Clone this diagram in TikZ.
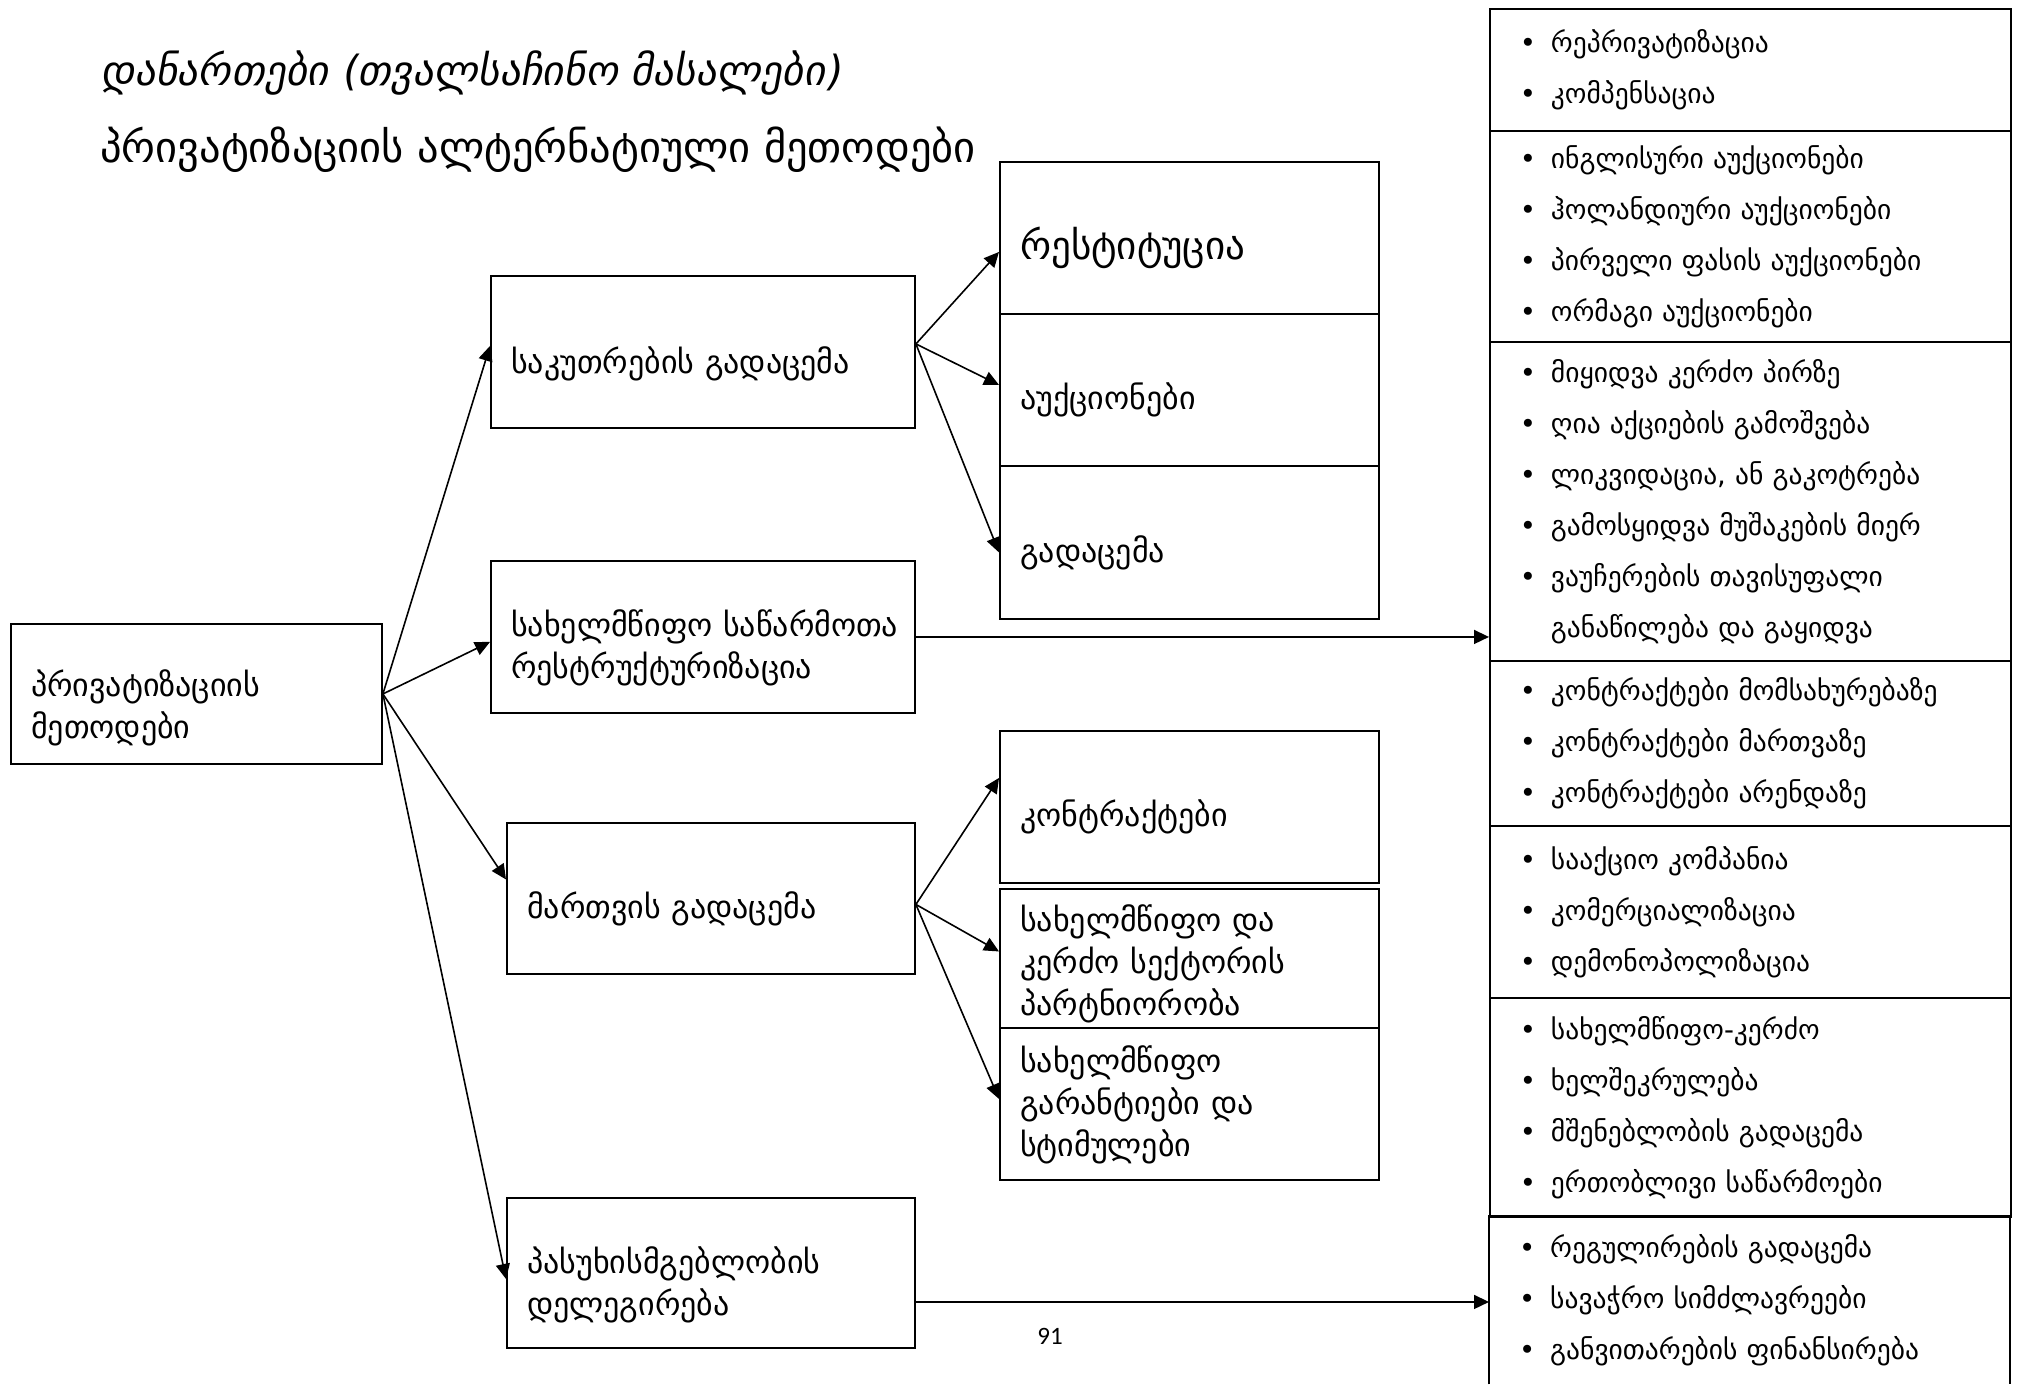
\documentclass[tikz,border=0pt]{standalone}
\usepackage{fontspec}
\setmainfont{DejaVu Sans}
\newfontfamily\titlefont{DejaVu Sans}[FakeSlant=0.18]
\newfontfamily\numfont{Carlito}
\usetikzlibrary{arrows.meta,calc}
\newcommand{\itm}[1]{\makebox[31pt][l]{•}#1}
\newcommand{\cont}[1]{\hspace*{31pt}#1}
\begin{document}
\begin{tikzpicture}[x=1pt,y=-1pt,
  box/.style={draw, line width=1.9pt, anchor=north west, inner sep=0pt},
  txt/.style={anchor=west, inner sep=0pt, align=left, font=\fontsize{32}{42}\selectfont},
  sect/.style={anchor=north west, inner xsep=30pt, inner ysep=0pt, text width=461pt, align=left, font=\fontsize{27.5}{51}\selectfont},
  sectline/.style={line width=1.9pt},
  arr/.style={line width=1.6pt, -{Triangle[length=15pt,width=14pt]}},
  ttl/.style={anchor=west, inner sep=0pt}
]
\useasboundingbox (0,0) rectangle (2018,1384);
\fill[white] (0,0) rectangle (2018,1384);
% titles
\node[ttl] (t1) at (100,73) {\titlefont\fontsize{41.5}{44}\selectfont დანართები (თვალსაჩინო მასალები)};
\node[ttl] (t2) at (100,150) {\fontsize{42.5}{44}\selectfont პრივატიზაციის ალტერნატიული მეთოდები};
% left and second column
\node[box, minimum width=371pt, minimum height=140pt] (L) at (10,623) {};
\node[txt, text width=331pt] (Lt) at ([xshift=21pt,yshift=-14pt]L.west) {პრივატიზაციის\\მეთოდები};
\node[box, minimum width=424pt, minimum height=152pt] (A) at (490,275) {};
\node[txt, text width=384pt] (At) at ([xshift=21pt,yshift=-12pt]A.west) {საკუთრების გადაცემა};
\node[box, minimum width=424pt, minimum height=152pt] (B) at (490,560) {};
\node[txt, text width=400pt] (Bt) at ([xshift=21pt,yshift=-11pt]B.west) {სახელმწიფო საწარმოთა\\რესტრუქტურიზაცია};
\node[box, minimum width=408pt, minimum height=151pt] (C) at (506,822) {};
\node[txt, text width=368pt] (Ct) at ([xshift=21pt,yshift=-10pt]C.west) {მართვის გადაცემა};
\node[box, minimum width=408pt, minimum height=150pt] (D) at (506,1197) {};
\node[txt, text width=368pt] (Dt) at ([xshift=21pt,yshift=-12pt]D.west) {პასუხისმგებლობის\\დელეგირება};
% middle column
\node[box, minimum width=379pt, minimum height=152pt] (M1) at (999,161) {};
\node[txt, text width=339pt, font=\fontsize{39}{44}\selectfont] (M1t) at ([xshift=21pt,yshift=-10pt]M1.west) {რესტიტუცია};
\node[box, minimum width=379pt, minimum height=152pt] (M2) at (999,313) {};
\node[txt, text width=339pt] (M2t) at ([xshift=21pt,yshift=-10pt]M2.west) {აუქციონები};
\node[box, minimum width=379pt, minimum height=153pt] (M3) at (999,465) {};
\node[txt, text width=339pt] (M3t) at ([xshift=21pt,yshift=-10pt]M3.west) {გადაცემა};
\node[box, minimum width=379pt, minimum height=152pt] (M4) at (999,730) {};
\node[txt, text width=339pt] (M4t) at ([xshift=21pt,yshift=-10pt]M4.west) {კონტრაქტები};
\node[box, minimum width=379pt, minimum height=139pt] (M5) at (999,888) {};
\node[txt, text width=339pt] (M5t) at ([xshift=21pt,yshift=-5pt]M5.west) {სახელმწიფო და\\კერძო სექტორის\\პარტნიორობა};
\node[box, minimum width=379pt, minimum height=152pt] (M6) at (999,1027) {};
\node[txt, text width=339pt] (M6t) at ([xshift=21pt,yshift=-1pt]M6.west) {სახელმწიფო\\გარანტიები და\\სტიმულები};
% right column
\node[sect, draw, sectline, minimum height=122pt] (R1) at (1489,8) {\itm{რეპრივატიზაცია}\\\itm{კომპენსაცია}};
\node[sect, draw, sectline, minimum height=211pt] (R2) at (1489,130) {\itm{ინგლისური აუქციონები}\\\itm{ჰოლანდიური აუქციონები}\\\itm{პირველი ფასის აუქციონები}\\\itm{ორმაგი აუქციონები}};
\node[sect, draw, sectline, minimum height=319pt] (R3) at (1489,341) {\itm{მიყიდვა კერძო პირზე}\\\itm{ღია აქციების გამოშვება}\\\itm{ლიკვიდაცია, ან გაკოტრება}\\\itm{გამოსყიდვა მუშაკების მიერ}\\\itm{ვაუჩერების თავისუფალი}\\\cont{განაწილება და გაყიდვა}};
\node[sect, draw, sectline, minimum height=165pt] (R4) at (1489,660) {\itm{კონტრაქტები მომსახურებაზე}\\\itm{კონტრაქტები მართვაზე}\\\itm{კონტრაქტები არენდაზე}};
\node[sect, draw, sectline, minimum height=172pt] (R5) at (1489,825) {\itm{სააქციო კომპანია}\\\itm{კომერციალიზაცია}\\\itm{დემონოპოლიზაცია}};
\node[sect, draw, sectline, minimum height=219pt] (R6) at (1489,997) {\itm{სახელმწიფო-კერძო}\\\itm{ხელშეკრულება}\\\itm{მშენებლობის გადაცემა}\\\itm{ერთობლივი საწარმოები}};
\node[sect, minimum height=168pt] (R7) at (1489,1216) {\itm{რეგულირების გადაცემა}\\\itm{სავაჭრო სიმძლავრეები}\\\itm{განვითარების ფინანსირება}};
\draw[sectline] (R7.south west) -- (R7.north west) -- (R7.north east) -- (R7.south east);
% page number
\node (pg) at (1050,1336) {\numfont\fontsize{25}{30}\selectfont 91};
% arrows from L
\draw[arr] (L.east) -- ([yshift=6pt]A.west);
\draw[arr] (L.east) -- ([yshift=-5pt]B.west);
\draw[arr] (L.east) -- ([yshift=19pt]C.west);
\draw[arr] (L.east) -- ([yshift=-6pt]D.west);
% arrows from A
\draw[arr] ([yshift=8pt]A.east) -- ([yshift=-14pt]M1.west);
\draw[arr] ([yshift=8pt]A.east) -- ([yshift=5pt]M2.west);
\draw[arr] ([yshift=8pt]A.east) -- ([yshift=-10pt]M3.west);
% arrows from C
\draw[arr] ([yshift=-6pt]C.east) -- ([yshift=29pt]M4.west);
\draw[arr] ([yshift=-6pt]C.east) -- ([yshift=7pt]M5.west);
\draw[arr] ([yshift=-6pt]C.east) -- ([yshift=5pt]M6.west);
% arrows to right column
\draw[arr] (B.east) -- (B.east -| R3.west);
\draw[arr] ([yshift=-29pt]D.east) -- ([yshift=-29pt]D.east -| R7.west);
\end{tikzpicture}
\end{document}
